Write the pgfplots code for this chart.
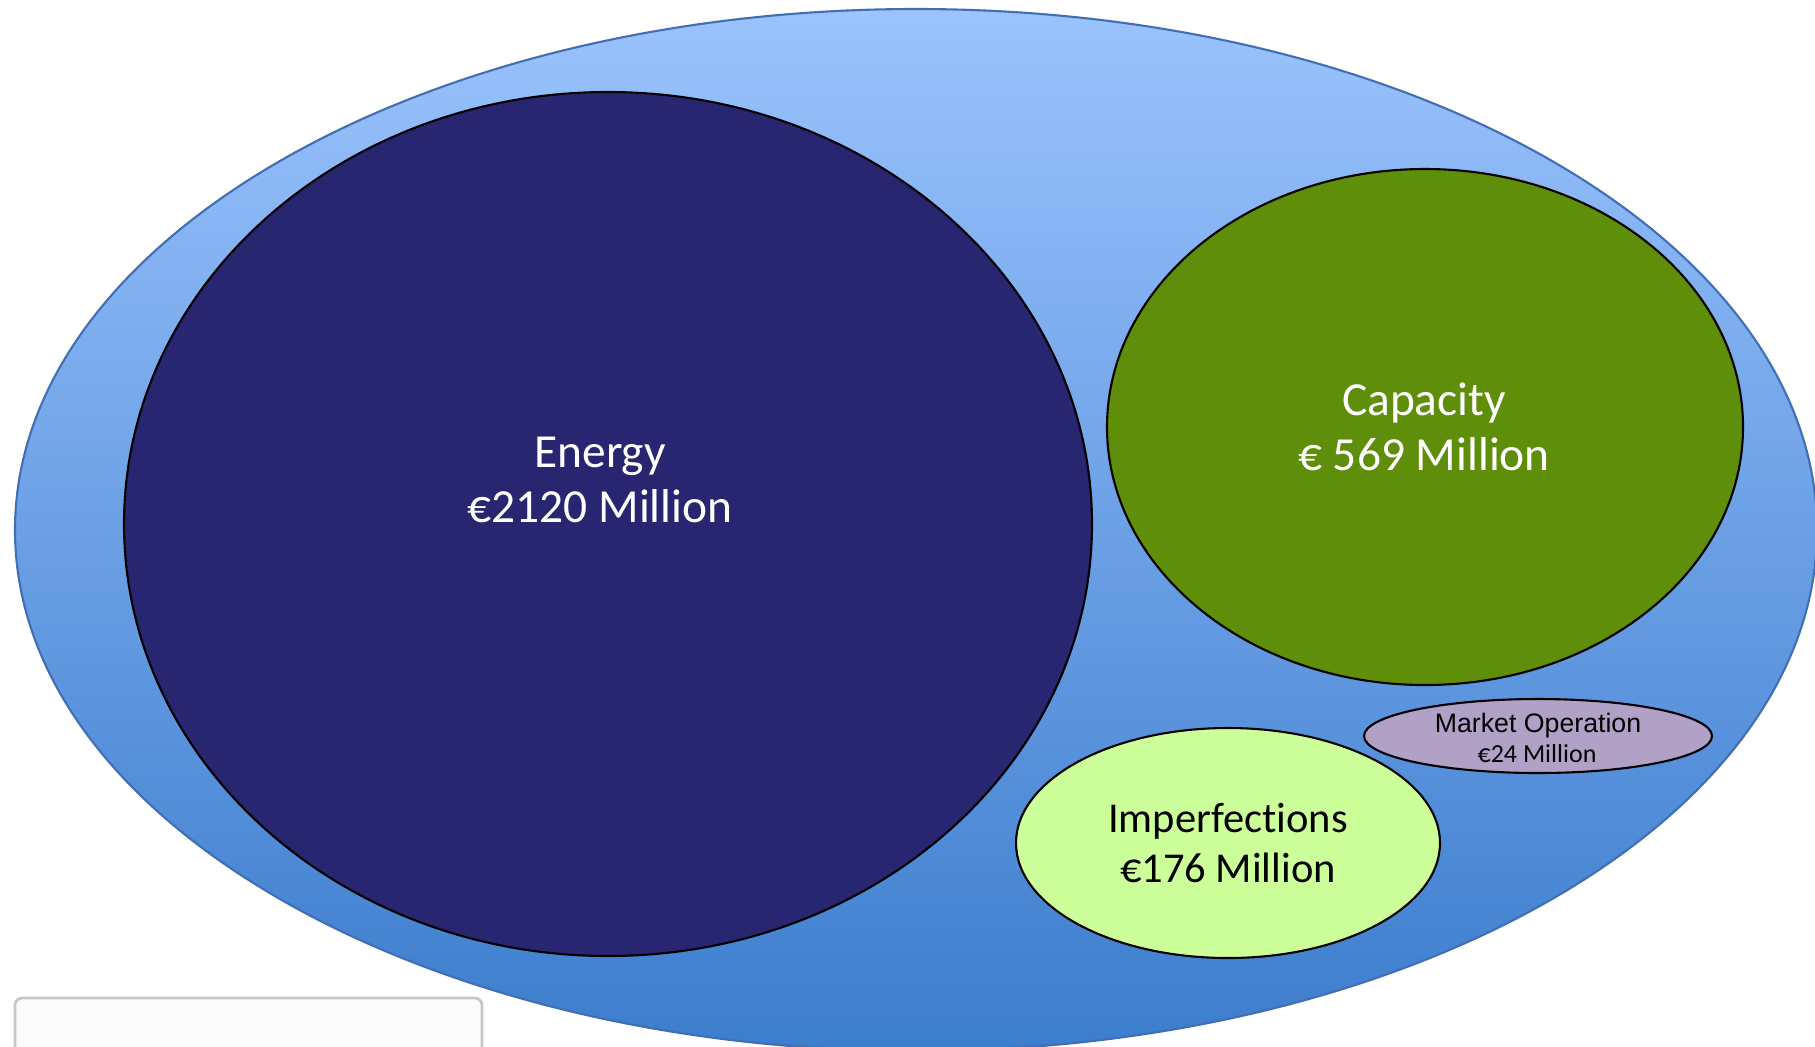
\documentclass[border=0pt]{standalone}
\usepackage{pgfplots}
\pgfplotsset{compat=1.18}
\usepackage{fontspec}
\setmainfont{Carlito}[Ligatures=NoCommon]
\newfontfamily\arialfont{Liberation Sans}
\definecolor{outerTop}{RGB}{155,195,253}
\definecolor{outerBot}{RGB}{60,125,205}
\definecolor{outerLine}{RGB}{65,110,180}
\definecolor{energyC}{RGB}{40,38,112}
\definecolor{capC}{RGB}{95,142,10}
\definecolor{impC}{RGB}{204,255,153}
\definecolor{mktC}{RGB}{178,161,199}
\definecolor{goldC}{RGB}{222,205,150}
\pgfdeclareplotmark{emptymark}{}
\pgfplotsset{
  ellplot/.style={
    scatter, only marks, mark=emptymark,
    visualization depends on={\thisrow{rx}\as\rx},
    visualization depends on={\thisrow{ry}\as\ry},
    scatter/@pre marker code/.code={\path[#1] (0,0) ellipse [x radius=\rx*0.1mm, y radius=\ry*0.1mm];},
    scatter/@post marker code/.code={},
  }
}
\begin{document}
\begin{tikzpicture}
\begin{axis}[
  x=0.1mm, y=0.1mm, y dir=reverse,
  xmin=0, xmax=1815, ymin=0, ymax=1046,
  hide axis, clip=true, clip marker paths=true,
]
% outer ellipse
\addplot[ellplot={top color=outerTop, bottom color=outerBot, draw=outerLine, line width=0.6pt}] table {
x y rx ry
916 530 901 521
};
% Energy
\addplot[ellplot={fill=energyC, draw=black, line width=0.6pt}] table {
x y rx ry
608 524 484 432
};
% Capacity
\addplot[ellplot={fill=capC, draw=black, line width=0.6pt}] table {
x y rx ry
1425 427 318 258
};
% Imperfections
\addplot[ellplot={fill=impC, draw=black, line width=0.6pt}] table {
x y rx ry
1228 843 212 115
};
% Market operation
\addplot[ellplot={fill=mktC, draw=black, line width=0.6pt}] table {
x y rx ry
1538 736 174 37
};
% partial box bottom-left
\addplot[fill=white!97!gray, draw=black!22, line width=0.8pt, rounded corners=2pt] coordinates {
(15,1060) (15,998) (482,998) (482,1060)
} -- cycle;
\addplot[ellplot={fill=goldC, draw=none}] table {
x y rx ry
110 1068 34 30
};
\node[anchor=base, text=white, font=\fontsize{13.5}{15.6}\selectfont] at (axis cs:600,467) {Energy};
\node[anchor=base, text=white, font=\fontsize{13.5}{15.6}\selectfont] at (axis cs:600,522) {€2120 Million};
\node[anchor=base, text=white, font=\fontsize{13.5}{15.6}\selectfont] at (axis cs:1424,415) {Capacity};
\node[anchor=base, text=white, font=\fontsize{13.5}{15.6}\selectfont] at (axis cs:1424,470) {€ 569 Million};
\node[anchor=base, text=black, font=\fontsize{12.1}{14}\selectfont] at (axis cs:1228,832) {Imperfections};
\node[anchor=base, text=black, font=\fontsize{12.1}{14}\selectfont] at (axis cs:1228,882) {€176 Million};
\node[anchor=base, text=black, font=\arialfont\fontsize{7.6}{8.5}\selectfont] at (axis cs:1538,732) {Market Operation};
\node[anchor=base, text=black, font=\fontsize{7.4}{8.5}\selectfont] at (axis cs:1537,762) {€24 Million};
\coordinate (A) at (axis cs:0,0);
\coordinate (B) at (axis cs:1815,1046);
\end{axis}
\pgfresetboundingbox
\useasboundingbox (A) rectangle (B);
\end{tikzpicture}
\end{document}
